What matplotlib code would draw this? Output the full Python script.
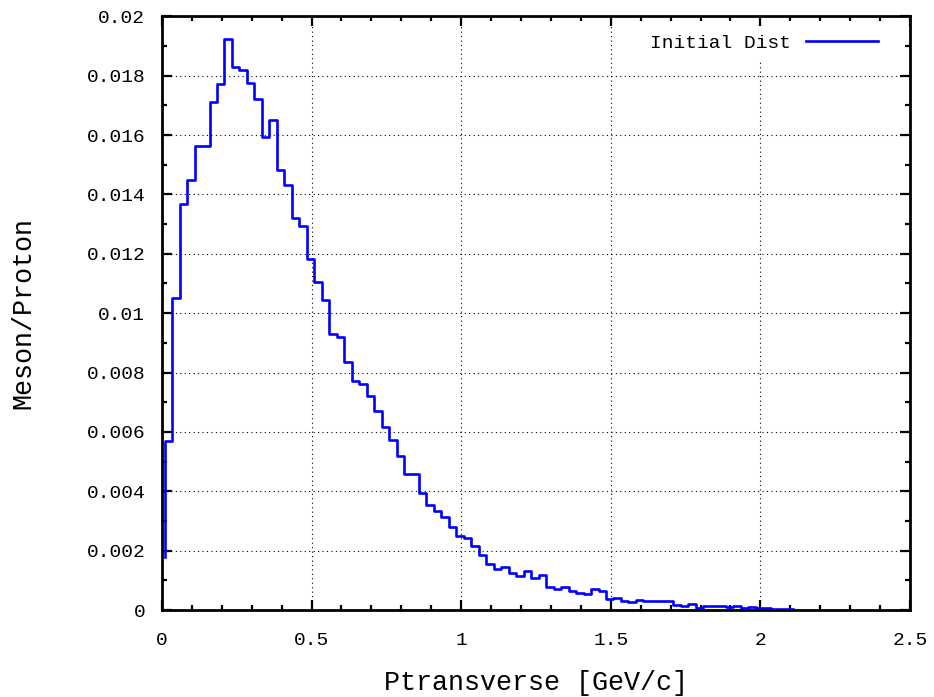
import numpy as np
import matplotlib

matplotlib.use("Agg")
import matplotlib.pyplot as plt
from matplotlib.ticker import MultipleLocator, FuncFormatter

####################################################################

# Transverse momentum histogram, 0.025 GeV/c bins
pt_start = 0.009
pt_width = 0.025
first_value = 0.0018
meson_per_proton = [
    0.00568, 0.01052, 0.01368, 0.01449, 0.01563, 0.01563, 0.01710, 0.01771,
    0.01924, 0.01828, 0.01820, 0.01775, 0.01720, 0.01595, 0.01650, 0.01483,
    0.01433, 0.01319, 0.01294, 0.01183, 0.01106, 0.01045, 0.00930, 0.00921,
    0.00835, 0.00770, 0.00761, 0.00722, 0.00669, 0.00615, 0.00573, 0.00520,
    0.00458, 0.00458, 0.00394, 0.00355, 0.00332, 0.00315, 0.00279, 0.00248,
    0.00242, 0.00214, 0.00186, 0.00155, 0.00139, 0.00145, 0.00125, 0.00113,
    0.00133, 0.00108, 0.00119, 0.00079, 0.00072, 0.00079, 0.00065, 0.00059,
    0.00054, 0.00071, 0.00064, 0.00038, 0.00042, 0.00029, 0.00028, 0.00034,
    0.00030, 0.00029, 0.00029, 0.00032, 0.00018, 0.00012, 0.00020, 0.00008,
    0.00012, 0.00012, 0.00012, 0.00010, 0.00014, 0.00007, 0.00011, 0.00007,
    0.00007, 0.00003, 0.00003, 0.00003,
]

x_ticks = [0, 0.5, 1, 1.5, 2, 2.5]
series_label = "Initial Dist"
x_title = "Ptransverse [GeV/c]"
y_title = "Meson/Proton"

####################################################################

FONT = "Liberation Mono"


def gformat(v, pos):  # gnuplot-like %g labels
    return "%g" % round(v, 6)


def makePlot():
    fig = plt.figure(figsize=(9.34, 6.97), dpi=100)
    ax = fig.add_axes([0.1734, 0.1248, 0.8009, 0.8518])

    edges = pt_start + pt_width * np.arange(len(meson_per_proton) + 1)
    yvals = [first_value] + list(meson_per_proton)
    ax.plot(edges, yvals, drawstyle="steps-pre", color="#0000ff", lw=1.9,
            label=series_label, zorder=3)

    ax.set_xlim(0, 2.5)
    ax.set_ylim(0, 0.02)
    ax.set_xticks(x_ticks)
    ax.yaxis.set_major_locator(MultipleLocator(0.002))
    ax.xaxis.set_minor_locator(MultipleLocator(0.1))
    ax.yaxis.set_minor_locator(MultipleLocator(0.001))
    ax.xaxis.set_major_formatter(FuncFormatter(gformat))
    ax.yaxis.set_major_formatter(FuncFormatter(gformat))

    ax.grid(True, which="major", color="black", ls=(0, (1, 3)), lw=0.8)
    for s in ax.spines.values():
        s.set_linewidth(2.0)
    ax.tick_params(which="both", direction="in", top=True, right=True, width=1.6)
    ax.tick_params(which="major", length=7)
    ax.tick_params(which="minor", length=3.5)
    ax.tick_params(axis="x", which="major", pad=16)
    ax.tick_params(axis="y", which="major", pad=12)
    for lab in ax.get_xticklabels() + ax.get_yticklabels():
        lab.set_fontfamily(FONT)
        lab.set_fontsize(14)

    ax.set_xlabel(x_title, fontfamily=FONT, fontsize=19.3, labelpad=15)
    ax.set_ylabel(y_title, fontfamily=FONT, fontsize=19.3, labelpad=36)

    leg = ax.legend(loc="upper right", bbox_to_anchor=(0.968, 0.9825),
                    markerfirst=False, frameon=True,
                    prop={"family": FONT, "size": 14}, handlelength=3.7,
                    handletextpad=0.8, borderaxespad=0, fancybox=False)
    leg.get_frame().set_edgecolor("none")
    leg.get_frame().set_alpha(1)

    plt.savefig("out.png", dpi=100)


makePlot()
